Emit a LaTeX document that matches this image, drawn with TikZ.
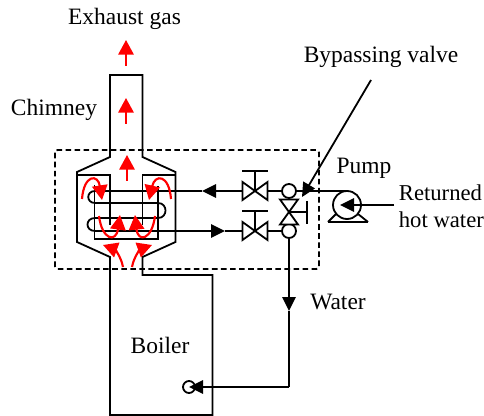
\documentclass[tikz,border=0pt]{standalone}
\usepackage{fontspec}
\setmainfont{Liberation Serif}
\usetikzlibrary{arrows.meta,calc}
\tikzset{
  bk/.style={-{Triangle[length=10.5pt,width=10pt]}},
  rd/.style={red,line width=1.6pt,-{Triangle[length=11pt,width=11.5pt]}},
  j/.style={circle,draw,fill=white,minimum size=10.5pt,inner sep=0pt},
  txt/.style={inner sep=0pt,font=\fontsize{17.6}{20}\selectfont},
  txs/.style={inner sep=0pt,anchor=west,font=\fontsize{17}{20}\selectfont},
  vlv/.pic={\draw[fill=white] (-12.5,-9)--(12.5,9)--(12.5,-9)--(-12.5,9)--cycle;},
  every picture/.style={line width=1.35pt},
}
\begin{document}
\begin{tikzpicture}[x=0.75pt,y=-0.75pt]
\useasboundingbox (0,0) rectangle (484,416);
% housing and boiler
\draw[dash pattern=on 4.2pt off 2.6pt,rounded corners=2pt] (55,150) rectangle (319,269);
\draw (110,157)--(110,75)--(142.5,75)--(142.5,157)--(175.5,172)--(175.5,242)--(142.5,257)--(142.5,275)--(212.5,275)--(212.5,415)--(110,415)--(110,257)--(77,242)--(77,172)--cycle;
\draw (77,175)--(110,175)--(110,225); \draw (175.5,175)--(142.5,175)--(142.5,225);
% coil
\draw (94.5,185)--(94.5,239)--(158,239)--(158,186);
\draw (95,203)--(158,203) .. controls (168,203) and (168,218) .. (158,218)--(95,218) .. controls (85,218) and (85,231) .. (95,231);
\draw (95,191) .. controls (86,191) and (86,203) .. (95,203);
% junctions, valves, pump
\node[j] (J1) at (289,191){}; \node[j] (J2) at (289,231){}; \node[circle,draw,minimum size=21pt,inner sep=0pt] (P) at (347,205){};
\node[circle,draw,minimum size=9pt,inner sep=0pt] (B) at (189,387){};
\coordinate (V1) at (255,191); \coordinate (V2) at (255,231); \coordinate (V3) at (289,212);
\coordinate (C1) at (95,191); \coordinate (C2) at (95,231);
\coordinate (A1) at (202,191); \coordinate (A2) at (225,231); \coordinate (A3) at (289,311); \coordinate (A4) at (289,387);
\coordinate (R) at (394,205); \coordinate (S) at (371,80); \coordinate (T) at (302,197);
\draw (J1)--(V1); \draw[bk] (V1)--(A1); \draw (A1)--(C1);
\draw (J2)--(V2); \draw[bk] (C2)--(A2); \draw (A2)--(V2);
\draw (J1)--(V3); \draw (V3)--(J2); \draw (J1)--(347,191);
\draw[bk] (J2)--(A3); \draw (A3)--(A4); \draw[bk] (A4)--(B.center);
\draw[bk] (R)--(340,205); \draw[bk] (S)--(T);
\draw (255,171)--(V1); \draw (242,171)--(268,171); \draw (255,211)--(V2); \draw (242,211)--(268,211);
\draw (V3)--(307,212); \draw (307,201)--(307,224);
\pic at (V1) {vlv}; \pic at (V2) {vlv}; \pic[rotate=90] at (V3) {vlv};
\draw (328,222)--(368,222); \draw (328,222)--(336,214); \draw (368,222)--(358,214);
% flue gas
\draw[rd] (126,66)--(126,40); \draw[rd] (126,124)--(126,98); \draw[rd] (127,181)--(127,155);
\draw[rd] (82,199) .. controls (84,174) and (98,174) .. (102,200);
\draw[rd] (171,199) .. controls (169,174) and (155,174) .. (149,200);
\draw[rd] (99,216) .. controls (102,240) and (116,243) .. (120,215);
\draw[rd] (155,216) .. controls (152,240) and (138,243) .. (135,215);
\draw[rd] (123,267) .. controls (121,256) and (114,249) .. (103,245);
\draw[rd] (132,267) .. controls (134,256) and (141,249) .. (152,245);
% labels
\node[txt] (tE) at (124.5,19){Exhaust gas}; \node[txt] (tB) at (381,57){Bypassing valve};
\node[txt] (tC) at (54,110){Chimney}; \node[txt] (tP) at (364,168){Pump};
\node[txs] (tR) at (398,193){Returned}; \node[txs] (tH) at (398,220){hot water};
\node[txt] (tW) at (338,302){Water}; \node[txt] (tO) at (160,345){Boiler};
\end{tikzpicture}
\end{document}
